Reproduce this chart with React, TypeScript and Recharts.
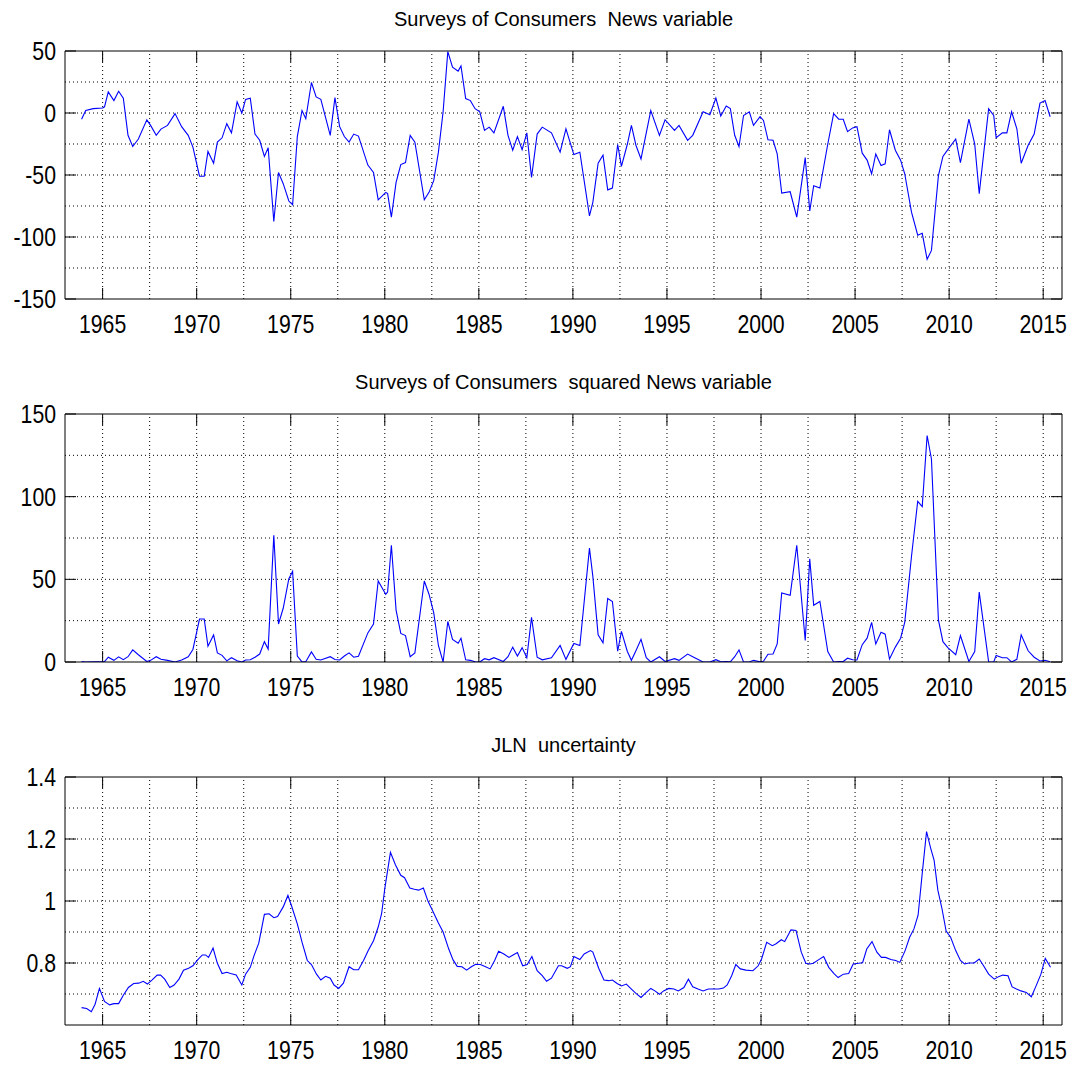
import { LineChart, Line, XAxis, YAxis, ReferenceLine } from 'recharts'

// Surveys of Consumers news variable (decimal years)
const newsYears = [
	1963.88, 1964.1, 1964.5, 1965.0, 1965.1, 1965.3, 1965.6, 1965.85, 1966.1, 1966.35,
	1966.6, 1966.9, 1967.35, 1967.55, 1967.85, 1968.1, 1968.45, 1968.85, 1969.2, 1969.55,
	1969.8, 1970.15, 1970.4, 1970.6, 1970.9, 1971.1, 1971.35, 1971.6, 1971.85, 1972.15,
	1972.4, 1972.6, 1972.85, 1973.1, 1973.35, 1973.6, 1973.8, 1974.1, 1974.35, 1974.6,
	1974.9, 1975.1, 1975.35, 1975.6, 1975.8, 1976.1, 1976.35, 1976.6, 1977.1, 1977.35,
	1977.6, 1977.85, 1978.1, 1978.35, 1978.6, 1979.1, 1979.4, 1979.65, 1980.05, 1980.15,
	1980.35, 1980.6, 1980.85, 1981.1, 1981.35, 1981.6, 1982.1, 1982.35, 1982.6, 1982.85,
	1983.1, 1983.35, 1983.6, 1983.9, 1984.05, 1984.3, 1984.55, 1984.8, 1985.05, 1985.3,
	1985.55, 1985.8, 1986.3, 1986.55, 1986.8, 1987.05, 1987.3, 1987.55, 1987.8, 1988.1,
	1988.37, 1988.86, 1989.32, 1989.63, 1990.05, 1990.37, 1990.88, 1991.06, 1991.34, 1991.6,
	1991.85, 1992.1, 1992.38, 1992.58, 1992.89, 1993.11, 1993.35, 1993.62, 1993.9, 1994.14,
	1994.6, 1994.9, 1995.4, 1995.64, 1996.1, 1996.37, 1996.92, 1997.28, 1997.6, 1997.86,
	1998.15, 1998.37, 1998.6, 1998.83, 1999.07, 1999.38, 1999.6, 1999.95, 2000.13, 2000.37,
	2000.64, 2000.86, 2001.1, 2001.55, 2001.9, 2002.35, 2002.59, 2002.8, 2003.13, 2003.55,
	2003.86, 2004.13, 2004.37, 2004.6, 2004.87, 2005.1, 2005.38, 2005.64, 2005.88, 2006.1,
	2006.38, 2006.6, 2006.83, 2007.14, 2007.42, 2007.64, 2008.0, 2008.33, 2008.57, 2008.83,
	2009.06, 2009.43, 2009.67, 2009.93, 2010.35, 2010.6, 2011.05, 2011.36, 2011.6, 2012.1,
	2012.37, 2012.5, 2012.83, 2013.07, 2013.32, 2013.6, 2013.83, 2014.2, 2014.52, 2014.83,
	2015.1, 2015.37
]

const newsValues = [
	-5, 2, 3.5, 4, 5, 17, 10, 17.5, 12, -18,
	-27, -21, -5.5, -10, -18, -13, -10, -0.5, -11, -18,
	-27.5, -51, -51, -31, -40.5, -23.5, -20, -8.6, -16, 9,
	0, 11, 12, -17, -22, -35, -28, -87.5, -48, -57,
	-71, -74, -19, 2, -4.6, 24.6, 13, 11, -18, 12.4,
	-11, -19, -23.5, -17, -18.6, -42, -48, -70, -64, -65,
	-84, -56, -41.6, -40, -18, -23.5, -70, -64, -54.6, -31.6,
	1, 49.5, 37, 33.8, 38, 11.6, 10, 3.5, 1, -14,
	-11.4, -16, 5.4, -18, -30, -19, -29.5, -16, -52, -17,
	-11.4, -16, -31.6, -12.7, -33.5, -31.6, -83, -72, -40.5, -34,
	-62, -60.5, -25.4, -43, -25.4, -10, -26, -37, -16, 2,
	-18, -5.4, -14, -10, -22, -18, 1, -1.4, 12, -2.4,
	5.7, 3.5, -18, -27, -2, 1, -10, -3, -6, -21.6,
	-22, -33, -64.6, -63.5, -84, -36, -79, -58.6, -60.5, -25,
	-0.5, -5, -5, -15, -12, -11, -32.4, -38, -49, -33,
	-42.4, -41, -13.5, -30, -38, -49, -80, -98.6, -97, -118,
	-110.8, -50.5, -35, -29.5, -21, -40, -5, -25, -65, 3.5,
	-2, -20, -16, -16, 1, -12.7, -40.5, -26, -17, 8,
	10, -3
]

const newsSquared = [
	0.25, 0.04, 0.12, 0.16, 0.25, 2.9, 1.0, 3.1, 1.4, 3.2,
	7.3, 4.4, 0.3, 1.0, 3.2, 1.7, 1.0, 0, 1.2, 3.2,
	7.6, 26, 26, 9.6, 16.4, 5.5, 4, 0.7, 2.6, 0.8,
	0, 1.2, 1.4, 2.9, 4.8, 12.3, 7.8, 76.6, 23, 32.5,
	50.4, 54.8, 3.6, 0.04, 0.2, 6.1, 1.7, 1.2, 3.2, 1.5,
	1.2, 3.6, 5.5, 2.9, 3.5, 17.6, 23, 49, 41, 42.3,
	70.6, 31.4, 17.3, 16, 3.2, 5.5, 49, 41, 29.8, 10,
	0, 24.5, 13.7, 11.4, 14.4, 1.3, 1, 0.1, 0, 2,
	1.3, 2.6, 0.3, 3.2, 9, 3.6, 8.7, 2.6, 27, 2.9,
	1.3, 2.6, 10, 1.6, 11.2, 10, 68.9, 51.8, 16.4, 11.6,
	38.4, 36.6, 6.5, 18.5, 6.5, 1, 6.8, 13.7, 2.6, 0,
	3.2, 0.3, 2, 1, 4.8, 3.2, 0, 0, 1.4, 0.1,
	0.3, 0.1, 3.2, 7.3, 0, 0, 1, 0.1, 0.4, 4.7,
	4.8, 10.9, 41.7, 40.3, 70.6, 13, 62.4, 34.3, 36.6, 6.3,
	0, 0.3, 0.3, 2.3, 1.4, 1.2, 10.5, 14.4, 24, 10.9,
	18, 16.8, 1.8, 9, 14.4, 24, 64, 97.2, 94, 137,
	122.8, 25.5, 12.3, 8.7, 4.4, 16, 0.3, 6.3, 42.3, 0.1,
	0, 4, 2.6, 2.6, 0, 1.6, 16.4, 6.8, 2.9, 0.6,
	1, 0.1
]

// JLN macro uncertainty
const jlnYears = [
	1963.88, 1964.15, 1964.4, 1964.6, 1964.83, 1965.1, 1965.37, 1965.6, 1965.85, 1966.1,
	1966.37, 1966.65, 1966.92, 1967.16, 1967.38, 1967.62, 1967.9, 1968.08, 1968.3, 1968.57,
	1968.8, 1969.06, 1969.3, 1969.57, 1969.8, 1970.05, 1970.3, 1970.47, 1970.63, 1970.87,
	1971.1, 1971.35, 1971.6, 1971.8, 1972.1, 1972.4, 1972.6, 1972.85, 1973.05, 1973.3,
	1973.6, 1973.85, 1974.1, 1974.3, 1974.6, 1974.85, 1975.05, 1975.35, 1975.6, 1975.88,
	1976.1, 1976.37, 1976.6, 1976.85, 1977.1, 1977.3, 1977.55, 1977.8, 1978.1, 1978.35,
	1978.6, 1978.87, 1979.12, 1979.4, 1979.65, 1979.83, 1980.0, 1980.3, 1980.57, 1980.85,
	1981.05, 1981.33, 1981.57, 1981.8, 1982.05, 1982.3, 1982.58, 1982.85, 1983.1, 1983.4,
	1983.63, 1983.85, 1984.1, 1984.35, 1984.6, 1984.83, 1985.08, 1985.33, 1985.6, 1985.84,
	1986.05, 1986.33, 1986.6, 1986.82, 1987.05, 1987.33, 1987.57, 1987.82, 1988.1, 1988.37,
	1988.6, 1988.86, 1989.23, 1989.4, 1989.7, 1989.87, 1990.05, 1990.37, 1990.6, 1990.93,
	1991.06, 1991.37, 1991.65, 1991.9, 1992.1, 1992.35, 1992.58, 1992.84, 1993.11, 1993.35,
	1993.62, 1993.86, 1994.14, 1994.36, 1994.6, 1994.82, 1995.1, 1995.37, 1995.6, 1995.9,
	1996.14, 1996.37, 1996.65, 1996.92, 1997.2, 1997.47, 1997.75, 1998.0, 1998.2, 1998.44,
	1998.66, 1998.9, 1999.2, 1999.57, 1999.85, 2000.03, 2000.3, 2000.6, 2000.8, 2001.08,
	2001.26, 2001.59, 2001.86, 2002.14, 2002.38, 2002.6, 2002.78, 2003.05, 2003.33, 2003.6,
	2003.88, 2004.1, 2004.38, 2004.66, 2004.9, 2005.18, 2005.4, 2005.62, 2005.9, 2006.16,
	2006.4, 2006.62, 2006.9, 2007.16, 2007.38, 2007.66, 2007.9, 2008.13, 2008.35, 2008.57,
	2008.8, 2009.02, 2009.2, 2009.4, 2009.62, 2009.84, 2010.08, 2010.35, 2010.6, 2010.82,
	2011.05, 2011.33, 2011.6, 2011.83, 2012.1, 2012.4, 2012.63, 2012.85, 2013.13, 2013.35,
	2013.58, 2013.82, 2014.1, 2014.37, 2014.6, 2014.88, 2015.11, 2015.39
]

const jlnValues = [
	0.656, 0.653, 0.643, 0.667, 0.718, 0.676, 0.665, 0.669, 0.669, 0.696,
	0.721, 0.734, 0.735, 0.741, 0.732, 0.745, 0.761, 0.761, 0.748, 0.721,
	0.729, 0.748, 0.777, 0.783, 0.791, 0.81, 0.826, 0.826, 0.818, 0.848,
	0.799, 0.766, 0.77, 0.766, 0.761, 0.729, 0.764, 0.786, 0.824, 0.864,
	0.957, 0.959, 0.946, 0.95, 0.981, 1.018, 0.983, 0.926, 0.867, 0.808,
	0.795, 0.764, 0.745, 0.757, 0.751, 0.729, 0.718, 0.735, 0.788, 0.778,
	0.778, 0.808, 0.84, 0.872, 0.916, 0.959, 1.04, 1.157, 1.116, 1.083,
	1.075, 1.042, 1.038, 1.035, 1.042, 0.999, 0.964, 0.929, 0.9, 0.845,
	0.81, 0.789, 0.788, 0.777, 0.788, 0.796, 0.795, 0.789, 0.781, 0.808,
	0.838, 0.829, 0.818, 0.826, 0.834, 0.791, 0.795, 0.821, 0.775, 0.759,
	0.741, 0.751, 0.791, 0.791, 0.783, 0.788, 0.821, 0.811, 0.829, 0.84,
	0.835, 0.783, 0.745, 0.743, 0.745, 0.734, 0.726, 0.732, 0.716, 0.702,
	0.689, 0.703, 0.718, 0.71, 0.699, 0.71, 0.718, 0.716, 0.71, 0.721,
	0.748, 0.723, 0.716, 0.71, 0.716, 0.716, 0.716, 0.719, 0.729, 0.759,
	0.795, 0.781, 0.777, 0.775, 0.791, 0.813, 0.867, 0.856, 0.862, 0.875,
	0.869, 0.907, 0.905, 0.835, 0.799, 0.797, 0.799, 0.81, 0.821, 0.786,
	0.766, 0.753, 0.764, 0.766, 0.797, 0.799, 0.801, 0.845, 0.869, 0.835,
	0.818, 0.818, 0.811, 0.808, 0.802, 0.84, 0.883, 0.91, 0.954, 1.089,
	1.224, 1.17, 1.132, 1.035, 0.975, 0.903, 0.883, 0.84, 0.808, 0.797,
	0.8, 0.8, 0.813, 0.791, 0.764, 0.748, 0.756, 0.761, 0.759, 0.723,
	0.716, 0.71, 0.705, 0.691, 0.723, 0.764, 0.815, 0.786
]

const yearTicks = [1965, 1970, 1975, 1980, 1985, 1990, 1995, 2000, 2005, 2010, 2015]
const yearGrid = [
	1965, 1967.5, 1970, 1972.5, 1975, 1977.5, 1980, 1982.5, 1985, 1987.5, 1990,
	1992.5, 1995, 1997.5, 2000, 2002.5, 2005, 2007.5, 2010, 2012.5, 2015
]

const newsTicks = [-150, -100, -50, 0, 50]
const newsGrid = [-125, -100, -75, -50, -25, 0, 25]
const squaredTicks = [0, 50, 100, 150]
const squaredGrid = [25, 50, 75, 100, 125]
const jlnTicks = [0.8, 1, 1.2, 1.4]
const jlnGrid = [0.7, 0.8, 0.9, 1, 1.1, 1.2, 1.3]

// no narrow sans installed, so squeeze Liberation Sans horizontally
const FONT = '"Liberation Sans", Arial, sans-serif'
const SQUEEZE = 0.85
const TICK_LEN = 11

function BottomTick({ x, y, payload }: any) {
	return (
		<g>
			<line x1={x} x2={x} y1={y} y2={y - TICK_LEN} stroke="#000" />
			<text
				transform={`translate(${x},${y + 34}) scale(${SQUEEZE},1)`}
				textAnchor="middle"
				fontSize={25}
				fontFamily={FONT}
				fill="#000"
			>
				{payload.value}
			</text>
		</g>
	)
}

function TopTick({ x, y }: any) {
	return <line x1={x} x2={x} y1={y} y2={y + TICK_LEN} stroke="#000" />
}

function LeftTick({ x, y, payload }: any) {
	return (
		<g>
			<line x1={x} x2={x + TICK_LEN} y1={y} y2={y} stroke="#000" />
			<text
				transform={`translate(${x - 9},${y + 9}) scale(${SQUEEZE},1)`}
				textAnchor="end"
				fontSize={25}
				fontFamily={FONT}
				fill="#000"
			>
				{payload.value}
			</text>
		</g>
	)
}

function RightTick({ x, y }: any) {
	return <line x1={x} x2={x - TICK_LEN} y1={y} y2={y} stroke="#000" />
}

type PanelProps = {
	title: string
	top: number
	height: number
	xs: number[]
	ys: number[]
	domain: [number, number]
	ticks: number[]
	grid: number[]
}

function Panel({ title, top, height, xs, ys, domain, ticks, grid }: PanelProps) {
	const data = xs.map((year, i) => ({ year, value: ys[i] }))
	return (
		<div style={{ position: 'absolute', left: 0, top, width: 1076, height }}>
			<div
				style={{
					position: 'absolute',
					left: 65,
					top: 9,
					width: 997,
					textAlign: 'center',
					fontFamily: FONT,
					fontSize: 20,
					lineHeight: '20px',
					whiteSpace: 'pre',
					color: '#000'
				}}
			>
				{title}
			</div>
			<LineChart
				width={1076}
				height={height}
				data={data}
				margin={{ top: 50, right: 13, bottom: height - 299 - 40, left: 0 }}
			>
				<XAxis
					dataKey="year"
					type="number"
					domain={[1963, 2016]}
					ticks={yearTicks}
					allowDataOverflow
					height={40}
					tickSize={0}
					tickMargin={0}
					axisLine={{ stroke: '#000' }}
					tick={BottomTick}
				/>
				<XAxis
					xAxisId="top"
					dataKey="year"
					type="number"
					orientation="top"
					domain={[1963, 2016]}
					ticks={yearTicks}
					allowDataOverflow
					height={1}
					tickSize={0}
					tickMargin={0}
					axisLine={{ stroke: '#000' }}
					tick={TopTick}
				/>
				<YAxis
					type="number"
					domain={domain}
					ticks={ticks}
					allowDataOverflow
					width={65}
					tickSize={0}
					tickMargin={0}
					axisLine={{ stroke: '#000' }}
					tick={LeftTick}
				/>
				<YAxis
					yAxisId="right"
					orientation="right"
					type="number"
					domain={domain}
					ticks={ticks}
					allowDataOverflow
					width={1}
					tickSize={0}
					tickMargin={0}
					axisLine={{ stroke: '#000' }}
					tick={RightTick}
				/>
				{yearGrid.map((g) => (
					<ReferenceLine key={'x' + g} x={g} stroke="#000" strokeDasharray="1 3" strokeWidth={1} />
				))}
				{grid.map((g) => (
					<ReferenceLine key={'y' + g} y={g} stroke="#000" strokeDasharray="1 3" strokeWidth={1} />
				))}
				<Line
					type="linear"
					dataKey="value"
					stroke="#0000ff"
					strokeWidth={1.1}
					dot={false}
					isAnimationActive={false}
				/>
			</LineChart>
		</div>
	)
}

export default function App() {
	return (
		<div style={{ position: 'relative', width: 1076, height: 1065, background: '#fff' }}>
			<style>{'body{margin:0}'}</style>
			<Panel
				title="Surveys of Consumers  News variable"
				top={0}
				height={361}
				xs={newsYears}
				ys={newsValues}
				domain={[-150, 50]}
				ticks={newsTicks}
				grid={newsGrid}
			/>
			<Panel
				title="Surveys of Consumers  squared News variable"
				top={363}
				height={361}
				xs={newsYears}
				ys={newsSquared}
				domain={[0, 150]}
				ticks={squaredTicks}
				grid={squaredGrid}
			/>
			<Panel
				title="JLN  uncertainty"
				top={726}
				height={339}
				xs={jlnYears}
				ys={jlnValues}
				domain={[0.6, 1.4]}
				ticks={jlnTicks}
				grid={jlnGrid}
			/>
		</div>
	)
}
